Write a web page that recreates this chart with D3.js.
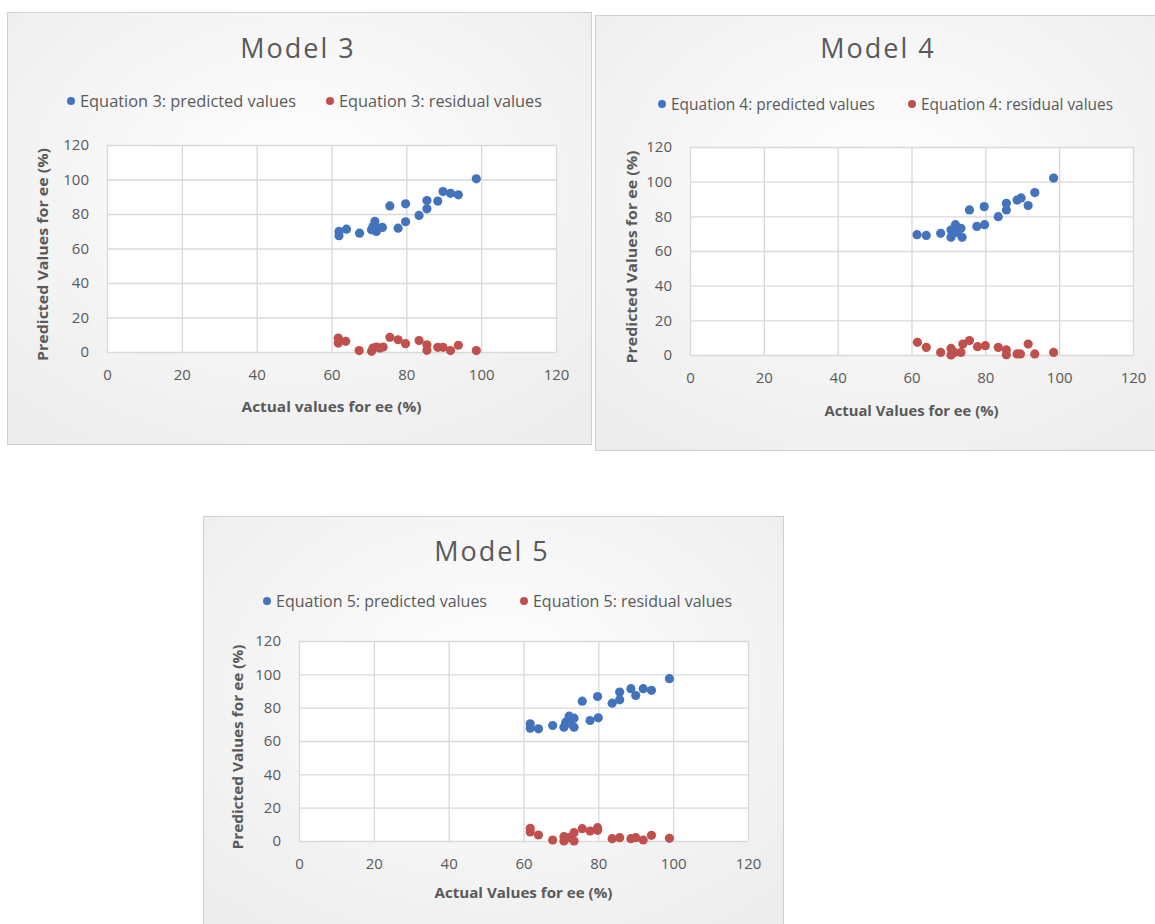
<!DOCTYPE html>
<html><head><meta charset="utf-8">
<script src="https://cdn.jsdelivr.net/npm/d3@7"></script>
<style>body{margin:0;background:#fff}svg{display:block}</style>
</head><body>
<svg id="c" width="1155" height="924"></svg>
<script>
// ---- data ----
const xTicks = [0, 20, 40, 60, 80, 100, 120];
const yTicks = [0, 20, 40, 60, 80, 100, 120];

const m3ActualPred = [62,62,64,67.5,70.7,71.1,71.6,72,72.4,73.6,75.6,77.8,79.8,79.8,83.4,85.5,85.5,88.4,89.8,91.8,93.9,98.7];
const m3Pred =       [67.4,69.9,71.2,68.9,70.8,72.8,75.7,69.9,71.8,72.2,84.7,71.8,85.9,75.5,79.2,87.8,83,87.5,93,92,91.1,100.4];
const m3ActualRes = [61.8,61.8,63.8,67.4,70.7,71.1,72,72.9,73.8,75.6,77.8,79.8,83.4,85.5,85.5,88.4,89.8,91.8,93.9,98.7];
const m3Res =       [8.1,5.2,6.2,0.8,0.4,2.3,2.9,2.3,2.9,8.5,7.1,4.8,6.6,4.2,1,2.7,2.7,0.8,3.9,0.8];

const m4ActualPred = [61.5,64,67.9,70.7,70.7,71.9,72.3,73.4,73.7,75.7,77.7,79.7,79.8,83.5,85.7,85.7,88.6,89.7,91.6,93.4,98.5];
const m4Pred =       [69.4,69,70.2,67.9,72.1,75.2,70.8,73.1,67.9,83.7,74.2,85.6,75.2,79.8,87.5,83.7,89.4,90.6,86.2,93.7,102.1];
const m4ActualRes = [61.6,64,67.9,70.7,70.7,71.6,73.4,73.9,75.7,77.9,80,83.5,85.7,85.7,88.6,89.5,91.6,93.4,98.5];
const m4Res =       [7.3,4.4,1.5,3.8,0,1.5,1.5,6.3,8.3,4.8,5.4,4.4,2.9,0.2,0.6,0.6,6.3,0.6,1.5];

const m5ActualPred = [61.8,61.8,64,67.8,70.8,71.3,72.2,73.5,73.5,72.5,75.7,77.8,79.8,80,83.7,85.7,85.7,88.7,90,92,94.2,99];
const m5Pred =       [70.3,67.7,67.3,69.3,68.3,71.3,74.9,73.7,68.3,70.7,83.9,72.3,86.7,73.9,82.7,89.4,84.7,91.4,87.3,91.4,90.4,97.4];
const m5ActualRes = [61.8,61.8,64,67.8,70.8,70.8,72.2,73.5,73.5,75.7,77.8,79.8,79.8,83.7,85.7,88.7,90,92,94.2,99];
const m5Res =       [7.6,5.4,3.6,0.6,2.6,0,2,0,5,7.4,6,6.4,8,1.4,2,1.4,2,0.6,3.4,1.6];

const titles = ["Model 3", "Model 4", "Model 5"];
const predLabels = ["Equation 3: predicted values", "Equation 4: predicted values", "Equation 5: predicted values"];
const resLabels = ["Equation 3: residual values", "Equation 4: residual values", "Equation 5: residual values"];
const xTitles = ["Actual values for ee (%)", "Actual Values for ee (%)", "Actual Values for ee (%)"];
const yTitle = "Predicted  Values for ee (%)";

// ---- layout ----
const panels = [
  {frame:[7,12,584,432], plot:[107,145,556,352], titleX:298, titleY:58, legY:101, leg1:71, leg2:330, legW:[216,203],
   xTitleY:412, xTitleW:180, yTitleX:43, yTitleW:213,
   ap:m3ActualPred, p:m3Pred, ar:m3ActualRes, r:m3Res},
  {frame:[595,15,570,435], plot:[690,147,1133,355], titleX:878, titleY:58, legY:104, leg1:662, leg2:912, legW:[204,192],
   xTitleY:416, xTitleW:174, yTitleX:632, yTitleW:213,
   ap:m4ActualPred, p:m4Pred, ar:m4ActualRes, r:m4Res},
  {frame:[203,516,580,420], plot:[299,641,748,841], titleX:492, titleY:561, legY:601, leg1:267, leg2:524, legW:[211,199],
   xTitleY:898, xTitleW:178, yTitleX:238, yTitleW:205,
   ap:m5ActualPred, p:m5Pred, ar:m5ActualRes, r:m5Res}
];

const BLUE = "#4473BE", RED = "#C0504D", TXT = "#595959", GRID = "#D9D9D9";
const FONT = "'Open Sans', 'Liberation Sans', sans-serif";

const svg = d3.select("#c");
const defs = svg.append("defs");
const grad = defs.append("radialGradient").attr("id","bg").attr("cx","50%").attr("cy","40%").attr("r","75%");
grad.append("stop").attr("offset","0%").attr("stop-color","#ffffff");
grad.append("stop").attr("offset","100%").attr("stop-color","#ececec");

panels.forEach((P, i) => {
  const g = svg.append("g");
  const [fx, fy, fw, fh] = P.frame;
  g.append("rect").attr("x", fx+0.5).attr("y", fy+0.5).attr("width", fw).attr("height", fh)
    .attr("fill", "url(#bg)").attr("stroke", "#D0D0D0");
  const [x0, y0, x1, y1] = P.plot;
  const x = d3.scaleLinear().domain([0,120]).range([x0, x1]);
  const y = d3.scaleLinear().domain([0,120]).range([y1, y0]);
  g.append("rect").attr("x", x0).attr("y", y0).attr("width", x1-x0).attr("height", y1-y0).attr("fill", "#fff");

  const gx = g.append("g").attr("transform", `translate(0,${y1})`)
    .call(d3.axisBottom(x).tickValues(xTicks).tickSize(-(y1-y0)).tickPadding(17));
  const gy = g.append("g").attr("transform", `translate(${x0},0)`)
    .call(d3.axisLeft(y).tickValues(yTicks).tickSize(-(x1-x0)).tickPadding(18));
  [gx, gy].forEach(a => {
    a.select(".domain").remove();
    a.selectAll("line").attr("stroke", GRID).attr("stroke-width", 1.3);
    a.selectAll("text").attr("fill", TXT).attr("font-family", FONT).attr("font-size", 15);
  });

  g.append("text").attr("x", P.titleX).attr("y", P.titleY)
    .attr("text-anchor","middle").attr("fill", TXT).attr("font-family", FONT)
    .attr("font-size", 27).attr("letter-spacing", 2).text(titles[i]);

  const leg = [[P.leg1, BLUE, predLabels[i], P.legW[0]], [P.leg2, RED, resLabels[i], P.legW[1]]];
  leg.forEach(([lx, col, lab, w]) => {
    g.append("circle").attr("cx", lx).attr("cy", P.legY).attr("r", 4).attr("fill", col);
    g.append("text").attr("x", lx+9).attr("y", P.legY+5.5).attr("fill", TXT)
      .attr("font-family", FONT).attr("font-size", 15.5)
      .attr("textLength", w).attr("lengthAdjust", "spacingAndGlyphs").text(lab);
  });

  g.append("text").attr("x", (x0+x1)/2).attr("y", P.xTitleY).attr("text-anchor","middle")
    .attr("fill", TXT).attr("font-family", FONT).attr("font-weight","bold").attr("font-size", 15)
    .attr("textLength", P.xTitleW).attr("lengthAdjust", "spacingAndGlyphs")
    .text(xTitles[i]);
  g.append("text").attr("transform", `translate(${P.yTitleX},${(y0+y1)/2+6}) rotate(-90)`)
    .attr("text-anchor","middle").attr("dy","0.35em").attr("fill", TXT).attr("font-family", FONT)
    .attr("font-weight","bold").attr("font-size", 15)
    .attr("textLength", P.yTitleW).attr("lengthAdjust", "spacingAndGlyphs").text(yTitle);

  g.append("g").selectAll("circle").data(P.ar.map((v,k)=>[v,P.r[k]])).join("circle")
    .attr("cx", d=>x(d[0])).attr("cy", d=>y(d[1])).attr("r", 4.6).attr("fill", RED);
  g.append("g").selectAll("circle").data(P.ap.map((v,k)=>[v,P.p[k]])).join("circle")
    .attr("cx", d=>x(d[0])).attr("cy", d=>y(d[1])).attr("r", 4.6).attr("fill", BLUE);
});
</script>
</body></html>
